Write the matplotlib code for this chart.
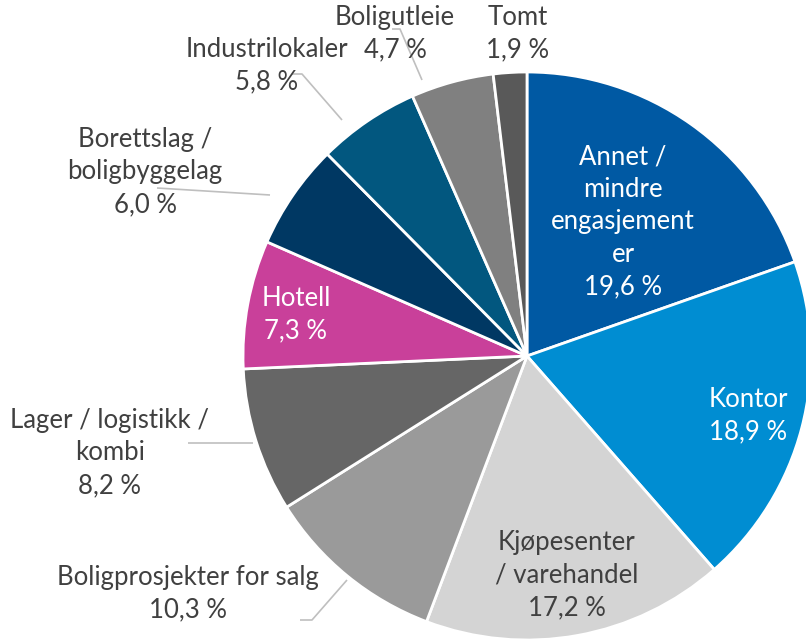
import matplotlib
matplotlib.use("Agg")
import matplotlib.pyplot as plt

categories = ["Annet /\nmindre\nengasjement\ner", "Kontor", "Kjøpesenter\n/ varehandel",
              "Boligprosjekter for salg", "Lager / logistikk /\nkombi", "Hotell",
              "Borettslag /\nboligbyggelag", "Industrilokaler", "Boligutleie", "Tomt"]
values = [19.6, 18.9, 17.2, 10.3, 8.2, 7.3, 6.0, 5.8, 4.7, 1.9]
colors = ["#0059A3", "#008DD2", "#D4D4D4", "#9A9A9A", "#666666", "#C9409A",
          "#003863", "#02577F", "#808080", "#595959"]
value_labels = ["19,6 %", "18,9 %", "17,2 %", "10,3 %", "8,2 %", "7,3 %",
                "6,0 %", "5,8 %", "4,7 %", "1,9 %"]

W, H = 806, 641
fig = plt.figure(figsize=(W / 100, H / 100), dpi=100)
ax = fig.add_axes([0, 0, 1, 1])

cx, cy, r = 527, H - 356, 284
ax.pie(values, colors=colors, startangle=90, counterclock=False,
       center=(cx, cy), radius=r, frame=True,
       wedgeprops=dict(edgecolor="white", linewidth=2.0))
ax.set_xlim(0, W)
ax.set_ylim(0, H)
ax.set_aspect("equal")
ax.axis("off")

# label positions (pixel coords, y from top), text colour
label_pos = [
    (623, 222, "white"),
    (748, 416, "white"),
    (567, 575, "#404040"),
    (188, 594, "#404040"),
    (110, 453, "#404040"),
    (296, 315, "white"),
    (145, 172, "#404040"),
    (267, 66, "#404040"),
    (395, 34, "#404040"),
    (518, 34, "#404040"),
]
fs = 18.5
for cat, val, (x, y, c) in zip(categories, value_labels, label_pos):
    ax.text(x, H - y, cat + "\n" + val, ha="center", va="center", color=c,
            fontsize=fs, family=["Lato", "DejaVu Sans"], linespacing=1.38)

# leader lines
leaders = [
    [(300, 620), (312, 620), (347, 580)],
    [(188, 443), (253, 443)],
    [(157, 188), (270, 195)],
    [(292, 74), (302, 74), (342, 120)],
    [(392, 29), (400, 29), (422, 80)],
]
for pts in leaders:
    xs = [p[0] for p in pts]
    ys = [H - p[1] for p in pts]
    ax.plot(xs, ys, color="#BFBFBF", lw=1.2, solid_capstyle="butt")

fig.savefig("out.png", dpi=100)
